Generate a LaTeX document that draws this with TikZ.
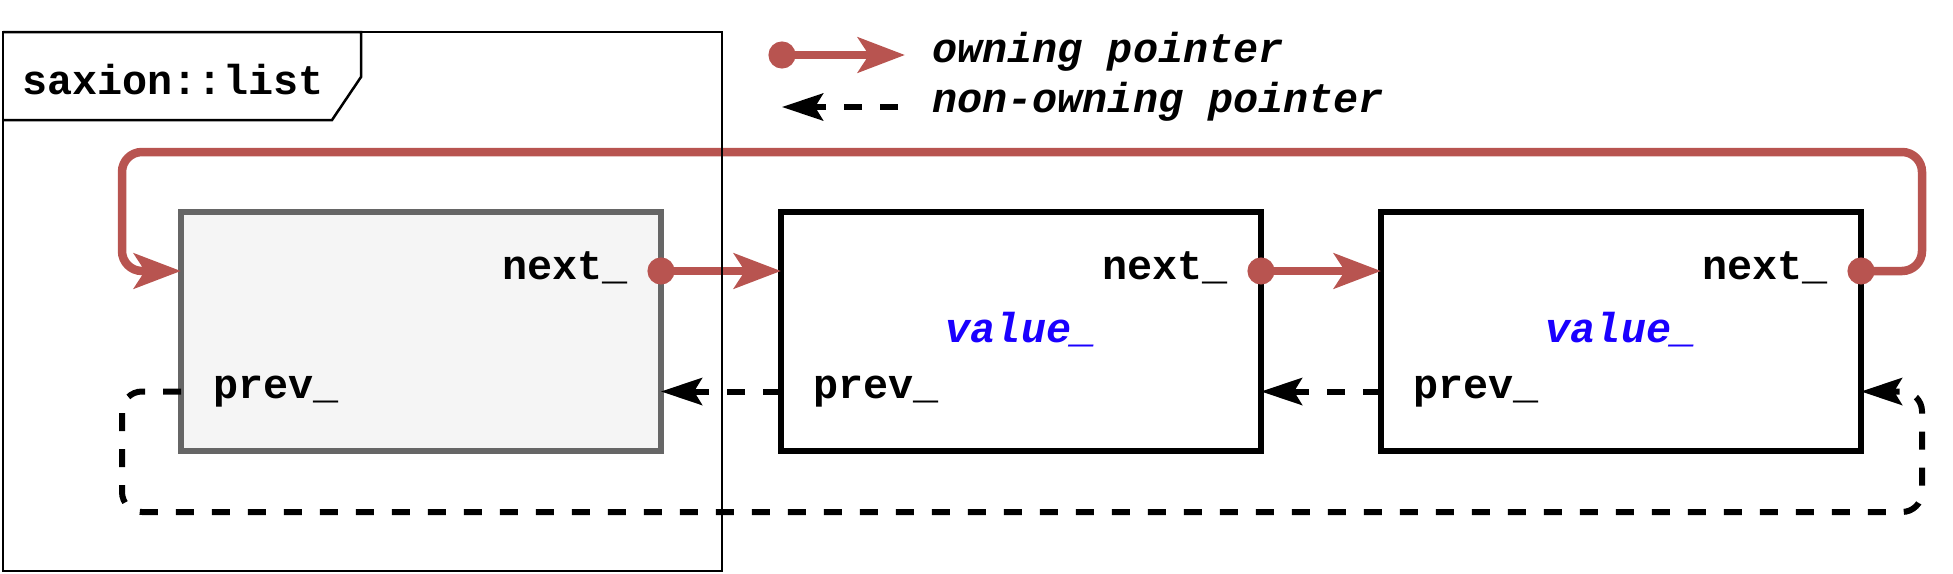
\documentclass[tikz,border=0pt]{standalone}
\usepackage{xcolor}
\usepackage{fontspec}
\setmainfont{Liberation Mono}
\usepackage{tikz}
\usetikzlibrary{positioning, arrows.meta}

\definecolor{ownRed}{HTML}{B85450}
\definecolor{valBlue}{RGB}{26,0,255}
\definecolor{headFill}{HTML}{F5F5F5}
\definecolor{headLine}{HTML}{666666}

\begin{document}
\begin{tikzpicture}[x = 0.5pt, y = -0.5pt,
        txt/.style = {inner sep = 0pt, font = \fontsize{20.9pt}{25pt}\selectfont\bfseries},
        valtxt/.style = {txt, text = valBlue, font = \fontsize{20.9pt}{25pt}\selectfont\bfseries\itshape},
        listnode/.style = {draw = black, line width = 2.75pt, minimum width = 240pt, minimum height = 119.5pt, outer sep = 0pt},
        headnode/.style = {listnode, draw = headLine, fill = headFill},
        owning/.style = {draw = ownRed, line width = 4.25pt, shorten <= -6.75pt,
            {Circle[length = 13.5pt]}-{Stealth[length = 23.5pt, width = 17.5pt, inset = 5.5pt]}},
        nonowning/.style = {draw = black, line width = 3pt, dash pattern = on 9pt off 9pt,
            -{Stealth[length = 20.5pt, width = 13.5pt, inset = 4pt]}}]
    \useasboundingbox (0, 0) rectangle (1953, 573);

    % the three nodes of the list
    \node[headnode] (sentinel) at (421, 331.5) {};
    \node[listnode, right = 60pt of sentinel] (first) {};
    \node[listnode, right = 60pt of first] (second) {};

    \foreach \b in {sentinel, first, second}{
        \node[txt, anchor = base east] (\b-nextlbl) at ([xshift = -16.5pt, yshift = 26.25pt]\b.east) {next\_};
        \node[txt, anchor = base west] (\b-prevlbl) at ([xshift = 16pt, yshift = -33.25pt]\b.west) {prev\_};
        \coordinate (\b-nx) at ([yshift = 30.25pt]\b.east);
        \coordinate (\b-in) at ([yshift = 30.25pt]\b.west);
        \coordinate (\b-pv) at ([yshift = -30pt]\b.west);
        \coordinate (\b-back) at ([yshift = -30pt]\b.east);
    }
    \foreach \b in {first, second}
        \node[valtxt, anchor = base] (\b-vallbl) at ([yshift = -5.5pt]\b.center) {value\_};

    % pointers
    \coordinate (loopNE) at (1922, 152);
    \coordinate (loopNW) at (122, 152);
    \coordinate (loopSW) at (122, 512);
    \coordinate (loopSE) at (1922, 512);

    \draw[owning] (sentinel-nx) -- (first-in);
    \draw[owning] (first-nx) -- (second-in);
    \draw[owning, rounded corners = 10pt] (second-nx) -| (loopNE) -- (loopNW) |- (sentinel-in);

    \draw[nonowning] (first-pv) -- (sentinel-back);
    \draw[nonowning] (second-pv) -- (first-back);
    \draw[nonowning, rounded corners = 10pt] (sentinel-pv) -| (loopSW) -- (loopSE) |- (second-back);

    % legend
    \coordinate (ownA) at (782, 55);
    \coordinate (ownB) at (905, 55);
    \draw[owning] (ownA) -- (ownB);
    \node[txt, anchor = base west, font = \fontsize{20.9pt}{25pt}\selectfont\bfseries\itshape] (ownTxt) at (932, 62) {owning pointer};
    \coordinate (nonA) at (898, 107);
    \coordinate (nonB) at (782, 107);
    \draw[nonowning] (nonA) -- (nonB);
    \node[txt, anchor = base west, font = \fontsize{20.9pt}{25pt}\selectfont\bfseries\itshape] (nonTxt) at (932, 112) {non-owning pointer};

    % frame of saxion::list
    \draw[line width = 1.25pt] (3, 32) rectangle (722, 571);
    \draw[line width = 1.25pt] (3, 32) -| (361, 77) -- (332, 120) -- (3, 120);
    \node[txt, anchor = base west] (title) at (22, 94) {saxion::list};
\end{tikzpicture}
\end{document}
